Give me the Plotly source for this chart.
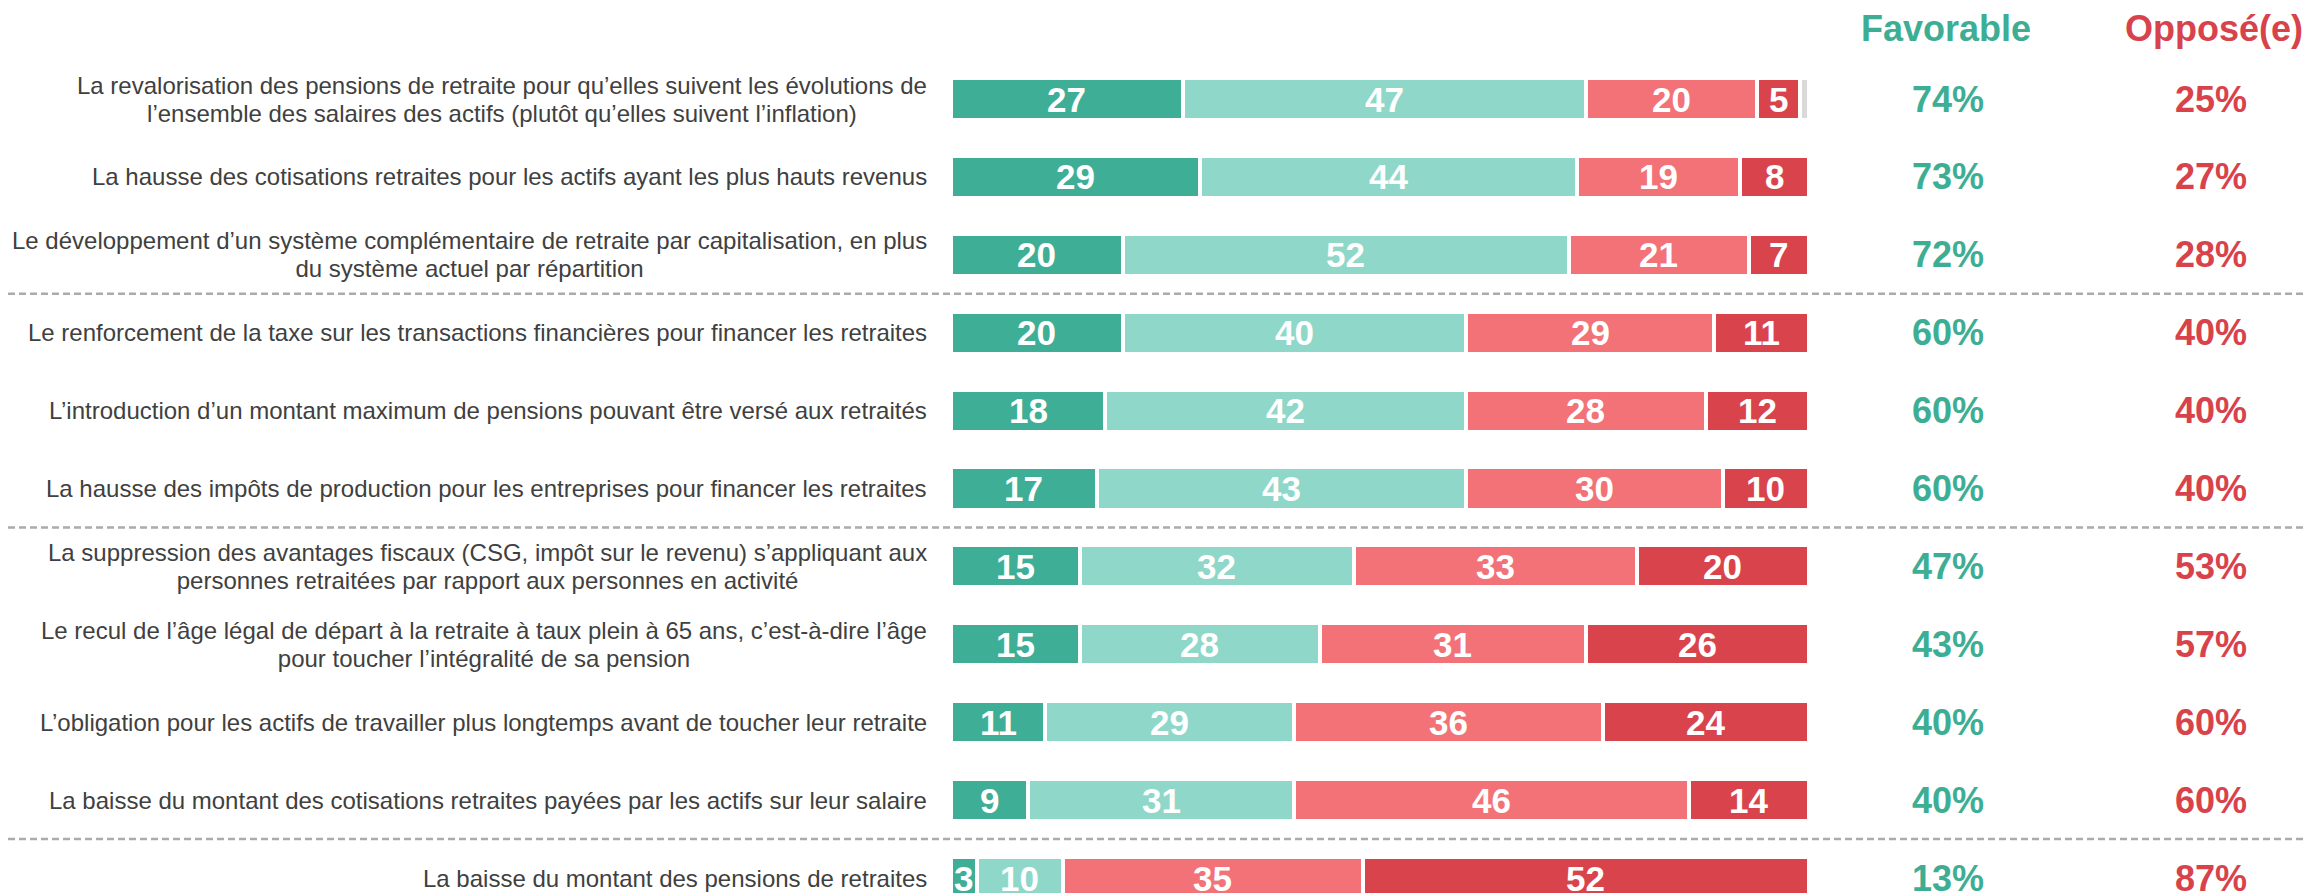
import plotly.graph_objects as go

# --- data ---
labels = [
    "La revalorisation des pensions de retraite pour qu\u2019elles suivent les \u00e9volutions de<br>l\u2019ensemble des salaires des actifs (plut\u00f4t qu\u2019elles suivent l\u2019inflation)",
    "La hausse des cotisations retraites pour les actifs ayant les plus hauts revenus",
    "Le d\u00e9veloppement d\u2019un syst\u00e8me compl\u00e9mentaire de retraite par capitalisation, en plus<br>du syst\u00e8me actuel par r\u00e9partition",
    "Le renforcement de la taxe sur les transactions financi\u00e8res pour financer les retraites",
    "L\u2019introduction d\u2019un montant maximum de pensions pouvant \u00eatre vers\u00e9 aux retrait\u00e9s",
    "La hausse des imp\u00f4ts de production pour les entreprises pour financer les retraites",
    "La suppression des avantages fiscaux (CSG, imp\u00f4t sur le revenu) s\u2019appliquant aux<br>personnes retrait\u00e9es par rapport aux personnes en activit\u00e9",
    "Le recul de l\u2019\u00e2ge l\u00e9gal de d\u00e9part \u00e0 la retraite \u00e0 taux plein \u00e0 65 ans, c\u2019est-\u00e0-dire l\u2019\u00e2ge<br>pour toucher l\u2019int\u00e9gralit\u00e9 de sa pension",
    "L\u2019obligation pour les actifs de travailler plus longtemps avant de toucher leur retraite",
    "La baisse du montant des cotisations retraites pay\u00e9es par les actifs sur leur salaire",
    "La baisse du montant des pensions de retraites",
]
tres_favorable = [27, 29, 20, 20, 18, 17, 15, 15, 11, 9, 3]
plutot_favorable = [47, 44, 52, 40, 42, 43, 32, 28, 29, 31, 10]
plutot_oppose = [20, 19, 21, 29, 28, 30, 33, 31, 36, 46, 35]
tres_oppose = [5, 8, 7, 11, 12, 10, 20, 26, 24, 14, 52]
nsp = [1, 0, 0, 0, 0, 0, 0, 0, 0, 0, 0]
total_favorable = [74, 73, 72, 60, 60, 60, 47, 43, 40, 40, 13]
total_oppose = [25, 27, 28, 40, 40, 40, 53, 57, 60, 60, 87]
group_breaks = [2.5, 5.5, 9.5]

# page body has an 8px margin, so the figure is a bit smaller than the window
OFF = 8
W, H = 2313 - OFF, 893 - OFF
rows = list(range(len(labels)))


def px(p):
    return (p - OFF) / W


ROW0, STEP = 99 - OFF, 77.9

GREEN_D = "#3FAE96"
GREEN_L = "#8FD7C8"
RED_L = "#F27277"
RED_D = "#D9444C"
GREY = "#D9D9D9"
TXT_GREEN = "#3DAE94"
TXT_RED = "#D8434B"
FONT = "Liberation Sans, Arial, sans-serif"

fig = go.Figure()
annotations = []

segments = [
    (tres_favorable, GREEN_D, True),
    (plutot_favorable, GREEN_L, True),
    (plutot_oppose, RED_L, True),
    (tres_oppose, RED_D, True),
    (nsp, GREY, False),
]
base = [0] * len(rows)
for vals, col, show in segments:
    fig.add_trace(go.Bar(
        y=rows, x=vals, orientation="h", width=0.54,
        marker=dict(color=col, line=dict(color="white", width=4)),
        hoverinfo="skip", showlegend=False,
    ))
    for i, v in enumerate(vals):
        if show and v:
            annotations.append(dict(
                x=base[i] + v / 2, xref="x", y=i, yref="y",
                xanchor="center", yanchor="middle", text=str(v), showarrow=False,
                font=dict(family=FONT, size=35, color="white", weight="bold"),
            ))
        base[i] += v

# base font sets the line spacing (1.3em), the span sets the glyph size
for i, lab in enumerate(labels):
    txt = "<br>".join(f'<span style="font-size:24px">{part}</span>' for part in lab.split("<br>"))
    annotations.append(dict(
        x=px(929), xref="paper", y=i, yref="y", xanchor="right", yanchor="middle",
        text=txt, showarrow=False, align="center",
        font=dict(family=FONT, size=21.2, color="#404040"),
    ))
    annotations.append(dict(
        x=px(1948), xref="paper", y=i, yref="y", xanchor="center", yanchor="middle",
        text=f"{total_favorable[i]}%", showarrow=False,
        font=dict(family=FONT, size=36, color=TXT_GREEN, weight="bold"),
    ))
    annotations.append(dict(
        x=px(2211), xref="paper", y=i, yref="y", xanchor="center", yanchor="middle",
        text=f"{total_oppose[i]}%", showarrow=False,
        font=dict(family=FONT, size=36, color=TXT_RED, weight="bold"),
    ))

for txt, xpx, col in [("Favorable", 1946, TXT_GREEN), ("Oppos\u00e9(e)", 2214, TXT_RED)]:
    annotations.append(dict(
        x=px(xpx), xref="paper", y=1 - (28 - OFF) / H, yref="paper", xanchor="center", yanchor="middle",
        text=txt, showarrow=False,
        font=dict(family=FONT, size=36, color=col, weight="bold"),
    ))

shapes = [
    dict(type="line", xref="paper", x0=0, x1=1, yref="y", y0=yb, y1=yb,
         line=dict(color="#ABABAB", width=2.5, dash="7px,4px"))
    for yb in group_breaks
]

fig.update_layout(
    width=W, height=H,
    margin=dict(l=0, r=0, t=0, b=0),
    barmode="stack",
    plot_bgcolor="white", paper_bgcolor="white",
    xaxis=dict(domain=[px(951), px(1807)], range=[0, 99.8], visible=False, fixedrange=True),
    yaxis=dict(range=[(H - ROW0) / STEP, -ROW0 / STEP], visible=False, fixedrange=True),
    annotations=annotations,
    shapes=shapes,
)

fig.write_html("out.html")
